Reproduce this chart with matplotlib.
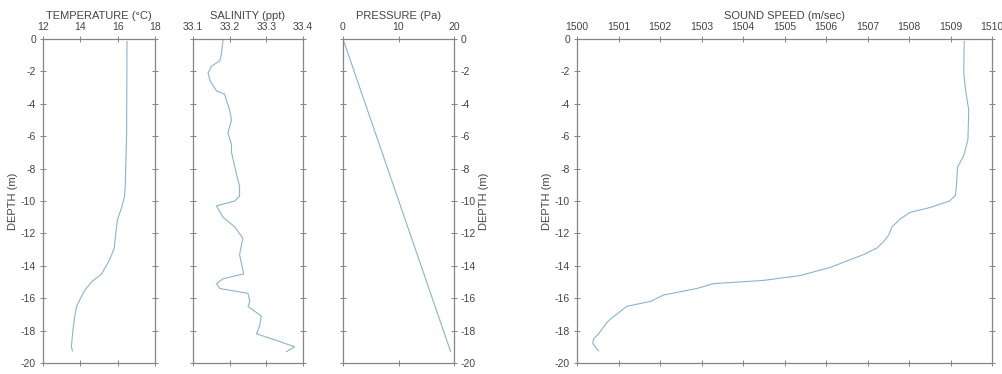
import matplotlib
matplotlib.use("Agg")
import matplotlib.pyplot as plt

plt.rcParams['font.family'] = ['Liberation Sans', 'DejaVu Sans']

temp_depth = [-0.15, -5.8, -8.9, -9.7, -10.4, -11.2, -12.0, -12.9, -13.6, -14.5, -15.0, -15.5, -16.1, -16.5, -17.1, -18.0, -19.0, -19.25]
temp_val = [16.50, 16.48, 16.41, 16.37, 16.21, 15.98, 15.90, 15.82, 15.58, 15.14, 14.60, 14.24, 13.97, 13.80, 13.70, 13.60, 13.52, 13.58]

sal_depth = [-0.08, -0.97, -1.34, -1.69, -2.1, -2.6, -3.2, -3.4, -4.4, -5.0, -5.8, -6.5, -7.0, -8.3, -9.1, -9.7, -10.0, -10.3, -11.0, -11.6, -12.3, -13.3, -14.5, -14.8, -15.1, -15.4, -15.7, -16.2, -16.5, -17.1, -17.7, -18.2, -18.6, -19.0, -19.3]
sal_val = [33.182, 33.177, 33.173, 33.150, 33.141, 33.147, 33.164, 33.186, 33.200, 33.205, 33.195, 33.205, 33.205, 33.218, 33.227, 33.227, 33.214, 33.164, 33.182, 33.214, 33.236, 33.227, 33.238, 33.182, 33.164, 33.173, 33.250, 33.255, 33.250, 33.286, 33.282, 33.273, 33.327, 33.377, 33.355]

pres_depth = [0.0, -19.3]
pres_val = [0.0, 19.4]

snd_depth = [-0.14, -2.1, -3.1, -4.4, -6.2, -7.2, -7.9, -9.1, -9.65, -10.0, -10.4, -10.7, -11.1, -11.6, -12.1, -12.5, -12.9, -13.3, -14.1, -14.6, -14.9, -15.1, -15.4, -15.8, -16.2, -16.5, -16.9, -17.3, -17.5, -18.2, -18.5, -18.8, -19.0, -19.25]
snd_val = [1509.33, 1509.32, 1509.36, 1509.44, 1509.42, 1509.32, 1509.17, 1509.14, 1509.12, 1508.98, 1508.51, 1508.03, 1507.79, 1507.59, 1507.51, 1507.39, 1507.23, 1506.91, 1506.10, 1505.38, 1504.50, 1503.29, 1502.89, 1502.09, 1501.77, 1501.20, 1501.00, 1500.80, 1500.72, 1500.52, 1500.40, 1500.38, 1500.44, 1500.52]

titles = ["TEMPERATURE (\u00b0C)", "SALINITY (ppt)", "PRESSURE (Pa)", "SOUND SPEED (m/sec)"]
xticks = [[12, 14, 16, 18], [33.1, 33.2, 33.3, 33.4], [0, 10, 20], list(range(1500, 1511))]
xlims = [(12, 18), (33.1, 33.4), (0, 20), (1500, 1510)]
yticks = list(range(0, -21, -2))

W, H = 1002, 374
fig = plt.figure(figsize=(W / 100, H / 100), dpi=100)
lefts = [43, 193, 343, 577]
rights = [155, 303, 454, 992]
top, bot = 39, 363

line_c = '#86b5d3'
spine_c = '#858585'
text_c = '#454545'

data = [(temp_val, temp_depth), (sal_val, sal_depth), (pres_val, pres_depth), (snd_val, snd_depth)]
for i in range(4):
    ax = fig.add_axes([lefts[i] / W, 1 - bot / H, (rights[i] - lefts[i]) / W, (bot - top) / H])
    x, y = data[i]
    ax.plot(x, y, color=line_c, lw=0.8)
    ax.set_xlim(*xlims[i])
    ax.set_ylim(-20, 0)
    ax.set_xticks(xticks[i])
    ax.set_xticklabels([("%g" % v) for v in xticks[i]])
    ax.set_yticks(yticks)
    ax.set_yticklabels([str(v) for v in yticks])
    for s in ax.spines.values():
        s.set_color(spine_c)
        s.set_linewidth(0.9)
    ax.tick_params(axis='both', direction='inout', length=4, width=0.7, color=spine_c,
                   labelsize=7.5, labelcolor=text_c, pad=3,
                   top=True, bottom=True, left=True, right=True,
                   labeltop=True, labelbottom=False)
    ax.xaxis.set_label_position('top')
    ax.set_xlabel(titles[i], fontsize=8, color=text_c, labelpad=2)
    if i == 0 or i == 3:
        ax.tick_params(axis='y', labelleft=True, labelright=False)
        ax.set_ylabel("DEPTH (m)", fontsize=8, color=text_c, labelpad=2)
    elif i == 1:
        ax.tick_params(axis='y', labelleft=False, labelright=False)
    else:
        ax.tick_params(axis='y', labelleft=False, labelright=True)
        ax.yaxis.set_label_position('right')
        ax.set_ylabel("DEPTH (m)", fontsize=8, color=text_c, labelpad=2)

fig.savefig("out.png", dpi=100)
